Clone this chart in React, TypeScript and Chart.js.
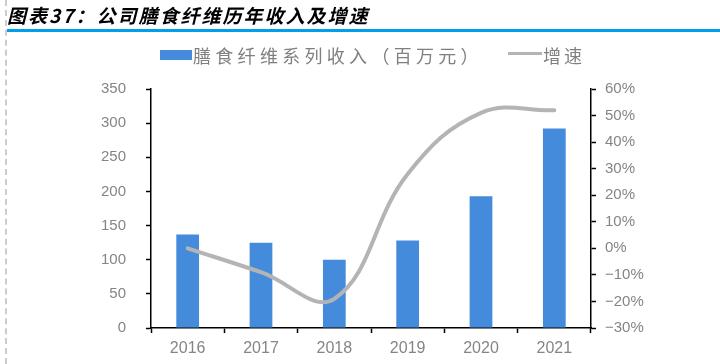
import React, { useEffect, useRef } from "react";
import { Chart, registerables } from "chart.js";

Chart.register(...registerables);

const title = "图表37：公司膳食纤维历年收入及增速";
const revenueLabel = "膳食纤维系列收入（百万元）";
const growthLabel = "增速";
const years = ["2016", "2017", "2018", "2019", "2020", "2021"];
const revenue = [137, 125, 100, 128, 193, 292];
const growth = [0, -9, -19, 28, 51, 52];
const leftMin = 0;
const leftMax = 350;
const leftStep = 50;
const rightMin = -30;
const rightMax = 60;
const rightStep = 10;

const BAR_COLOR = "#458bdb";
const LINE_COLOR = "#b4b4b4";
const TICK_COLOR = "#858585";

export default function App() {
  const canvasRef = useRef<HTMLCanvasElement | null>(null);

  useEffect(() => {
    if (!canvasRef.current) return;
    const chart = new Chart(canvasRef.current, {
      type: "bar",
      data: {
        labels: years,
        datasets: [
          {
            type: "line",
            label: growthLabel,
            data: growth,
            yAxisID: "y1",
            borderColor: LINE_COLOR,
            backgroundColor: LINE_COLOR,
            borderWidth: 4,
            pointRadius: 0,
            tension: 0.4,
            borderCapStyle: "round",
            order: 0,
          } as any,
          {
            type: "bar",
            label: revenueLabel,
            data: revenue,
            yAxisID: "y",
            backgroundColor: BAR_COLOR,
            barPercentage: 0.31,
            categoryPercentage: 1,
            order: 1,
          } as any,
        ],
      },
      options: {
        responsive: false,
        animation: false,
        layout: { padding: { top: 89, left: 0, right: 0, bottom: 0 } },
        plugins: {
          legend: { display: false },
          tooltip: { enabled: false },
          title: { display: false },
        },
        scales: {
          x: {
            offset: true,
            grid: {
              offset: true,
              drawOnChartArea: false,
              drawTicks: true,
              tickLength: 5,
              tickColor: "#000",
              tickWidth: 1.5,
            },
            border: { color: "#000", width: 1.5 },
            ticks: {
              color: TICK_COLOR,
              font: { size: 16, family: "'Liberation Sans', Arial, sans-serif" },
              padding: 6,
              maxRotation: 0,
            },
            afterFit: (s: any) => {
              s.height = 36;
            },
          },
          y: {
            position: "left",
            min: leftMin,
            max: leftMax,
            ticks: {
              stepSize: leftStep,
              color: TICK_COLOR,
              font: { size: 15, family: "'Liberation Sans', Arial, sans-serif" },
              padding: 20,
            },
            grid: {
              drawOnChartArea: false,
              drawTicks: true,
              tickLength: 5,
              tickColor: "#000",
              tickWidth: 1.5,
            },
            border: { color: "#000", width: 1.5 },
            afterFit: (s: any) => {
              s.width = 151;
            },
          },
          y1: {
            position: "right",
            min: rightMin,
            max: rightMax,
            ticks: {
              stepSize: rightStep,
              color: TICK_COLOR,
              font: { size: 15, family: "'Liberation Sans', Arial, sans-serif" },
              padding: 9,
              callback: (v: any) => (Number(v) < 0 ? "\u2212" + Math.abs(Number(v)) + "%" : v + "%"),
            },
            grid: {
              drawOnChartArea: false,
              drawTicks: true,
              tickLength: 5,
              tickColor: "#000",
              tickWidth: 1.5,
            },
            border: { color: "#000", width: 1.5 },
            afterFit: (s: any) => {
              s.width = 129;
            },
          },
        },
      },
    });
    return () => chart.destroy();
  }, []);

  const cjk = "'Noto Sans CJK SC', 'Noto Sans', sans-serif";

  return (
    <div
      style={{
        position: "fixed",
        left: 0,
        top: 0,
        width: 720,
        height: 364,
        background: "#fff",
        overflow: "hidden",
      }}
    >
      <canvas
        ref={canvasRef}
        width={720}
        height={364}
        style={{ position: "absolute", left: 0, top: 0, width: 720, height: 364 }}
      />
      {/* dashed left border */}
      <div
        style={{
          position: "absolute",
          left: 5,
          top: 0,
          width: 0,
          height: 364,
          borderLeft: "2px dashed #cccccc",
        }}
      />
      {/* title */}
      <div
        style={{
          position: "absolute",
          left: 7,
          top: 3,
          fontFamily: cjk,
          fontWeight: 700,
          fontStyle: "italic",
          fontSize: 19,
          letterSpacing: "2px",
          lineHeight: "24px",
          color: "#000",
          whiteSpace: "nowrap",
        }}
      >
        {title}
      </div>
      {/* blue rule */}
      <div
        style={{
          position: "absolute",
          left: 7,
          top: 29,
          width: 713,
          height: 3,
          background: "#00a0e9",
        }}
      />
      {/* legend */}
      <div
        style={{
          position: "absolute",
          left: 160,
          top: 50,
          width: 32,
          height: 10,
          background: BAR_COLOR,
        }}
      />
      <div
        style={{
          position: "absolute",
          left: 193,
          top: 43,
          fontFamily: cjk,
          fontSize: 18,
          letterSpacing: "4.3px",
          lineHeight: "24px",
          color: "#808080",
          whiteSpace: "nowrap",
        }}
      >
        {revenueLabel}
      </div>
      <div
        style={{
          position: "absolute",
          left: 508,
          top: 52,
          width: 34,
          height: 3,
          background: LINE_COLOR,
        }}
      />
      <div
        style={{
          position: "absolute",
          left: 543,
          top: 43,
          fontFamily: cjk,
          fontSize: 18,
          letterSpacing: "3px",
          lineHeight: "24px",
          color: "#808080",
          whiteSpace: "nowrap",
        }}
      >
        {growthLabel}
      </div>
    </div>
  );
}
